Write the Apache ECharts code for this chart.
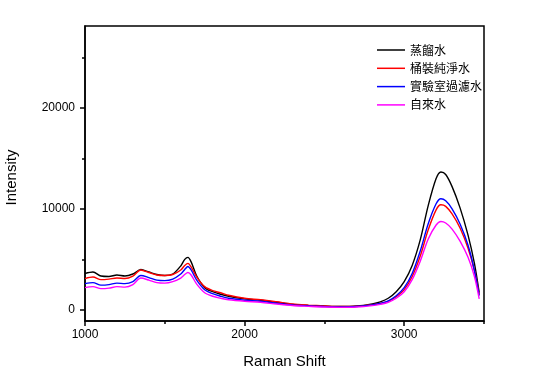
<!DOCTYPE html>
<html>
<head>
<meta charset="utf-8">
<script src="https://cdn.jsdelivr.net/npm/echarts@6/dist/echarts.min.js"></script>
<style>
  html, body { margin: 0; padding: 0; background: #fff; }
  #ramanChart { width: 554px; height: 378px; }
</style>
</head>
<body>
<div id="ramanChart"></div>
<script>
// 拉曼位移 (cm-1)
const ramanShift = [1000, 1050, 1100, 1150, 1200, 1250, 1300, 1350, 1400, 1450, 1500, 1550, 1600, 1625, 1645, 1665, 1700, 1750, 1800, 1850, 1900, 2000, 2100, 2200, 2300, 2400, 2500, 2600, 2700, 2800, 2850, 2900, 2950, 3000, 3050, 3100, 3150, 3200, 3230, 3260, 3300, 3350, 3400, 3440, 3470];

// 各水样强度
const distilled = [3600, 3750, 3350, 3300, 3450, 3350, 3550, 4000, 3750, 3500, 3400, 3550, 4350, 5000, 5200, 4750, 3350, 2200, 1800, 1550, 1350, 1100, 950, 750, 550, 450, 380, 330, 380, 600, 800, 1150, 1800, 2800, 4400, 6900, 10300, 13000, 13650, 13400, 12200, 10100, 7400, 4600, 1700];
const bottled = [3100, 3250, 3000, 3050, 3150, 3100, 3350, 3950, 3700, 3450, 3400, 3500, 3950, 4400, 4600, 4250, 3250, 2300, 1900, 1700, 1450, 1150, 1000, 800, 580, 470, 390, 330, 360, 520, 650, 850, 1300, 2000, 3300, 5300, 7900, 9900, 10400, 10250, 9500, 8100, 6100, 3900, 1500];
const labFiltered = [2600, 2700, 2450, 2500, 2650, 2600, 2800, 3400, 3200, 2950, 2900, 3050, 3550, 4000, 4300, 3950, 2950, 2000, 1600, 1350, 1150, 950, 850, 650, 480, 400, 330, 290, 330, 500, 650, 900, 1400, 2200, 3600, 5800, 8500, 10500, 11000, 10800, 10000, 8500, 6400, 3900, 1400];
const tapWater = [2200, 2300, 2100, 2150, 2300, 2250, 2500, 3150, 2950, 2700, 2650, 2800, 3150, 3500, 3700, 3450, 2550, 1700, 1350, 1150, 1000, 850, 750, 580, 430, 350, 280, 250, 280, 420, 550, 750, 1150, 1800, 3000, 4800, 7000, 8400, 8750, 8600, 8000, 6800, 5200, 3300, 1100];

const seriesNames = ['蒸餾水', '桶裝純淨水', '實驗室過濾水', '自來水'];
const seriesColors = ['#000000', '#ff0000', '#0000ff', '#ff00ff'];

// 刻度
const xMajorTicks = [1000, 2000, 3000];
const xMinorTicks = [1500, 2500, 3500];
const yMajorTicks = [0, 10000, 20000];
const yMinorTicks = [5000, 15000, 25000];

const latinFont = 'Liberation Sans, Arial, sans-serif';
const cjkFont = 'Noto Sans CJK TC, sans-serif';

const toPairs = arr => ramanShift.map((x, i) => [x, arr[i]]);
const plainNum = v => String(v);  // 不要千分位

const chart = echarts.init(document.getElementById('ramanChart'));
chart.setOption({
  animation: false,
  grid: {
    left: 85,
    right: 70,
    top: 26,
    bottom: 57,
    containLabel: false,
    outerBoundsMode: 'none',
    show: true,
    borderColor: '#000',
    borderWidth: 1.5
  },
  legend: {
    orient: 'vertical',
    left: 372,
    top: 38,
    icon: 'rect',
    itemWidth: 28,
    itemHeight: 1.5,
    itemGap: 4.3,
    data: seriesNames,
    textStyle: { fontSize: 12, lineHeight: 14, color: '#000', fontFamily: cjkFont }
  },
  xAxis: [
    {
      type: 'value',
      min: 1000,
      max: 3500,
      name: 'Raman Shift',
      nameLocation: 'middle',
      nameGap: 33,
      nameTextStyle: { fontSize: 15, color: '#000', fontFamily: latinFont },
      axisLine: { onZero: false, lineStyle: { color: '#000', width: 1.5 } },
      axisTick: { customValues: xMajorTicks, length: 5, lineStyle: { color: '#000', width: 1.5 } },
      axisLabel: { customValues: xMajorTicks, formatter: plainNum, color: '#000', fontSize: 12, fontFamily: latinFont, margin: 8 },
      splitLine: { show: false }
    },
    {
      // 次刻度
      type: 'value',
      min: 1000,
      max: 3500,
      position: 'bottom',
      axisLine: { show: false, onZero: false },
      axisTick: { customValues: xMinorTicks, length: 3, lineStyle: { color: '#000', width: 1.5 } },
      axisLabel: { show: false },
      splitLine: { show: false }
    }
  ],
  yAxis: [
    {
      type: 'value',
      min: -1100,
      max: 28100,
      name: 'Intensity',
      nameLocation: 'middle',
      nameGap: 66,
      nameTextStyle: { fontSize: 15, color: '#000', fontFamily: latinFont, padding: [0, 8, 0, 0] },
      axisLine: { show: true, onZero: false, lineStyle: { color: '#000', width: 1.5 } },
      axisTick: { show: true, customValues: yMajorTicks, length: 5, lineStyle: { color: '#000', width: 1.5 } },
      axisLabel: { customValues: yMajorTicks, formatter: plainNum, color: '#000', fontSize: 12, fontFamily: latinFont, margin: 10 },
      splitLine: { show: false }
    },
    {
      type: 'value',
      min: -1100,
      max: 28100,
      position: 'left',
      axisLine: { show: false, onZero: false },
      axisTick: { show: true, customValues: yMinorTicks, length: 3, lineStyle: { color: '#000', width: 1.5 } },
      axisLabel: { show: false },
      splitLine: { show: false }
    }
  ],
  series: [distilled, bottled, labFiltered, tapWater].map((arr, i) => ({
    name: seriesNames[i],
    type: 'line',
    data: toPairs(arr),
    symbol: 'none',
    smooth: 0.3,
    color: seriesColors[i],
    lineStyle: { width: 1.4, color: seriesColors[i] }
  }))
});
</script>
</body>
</html>
